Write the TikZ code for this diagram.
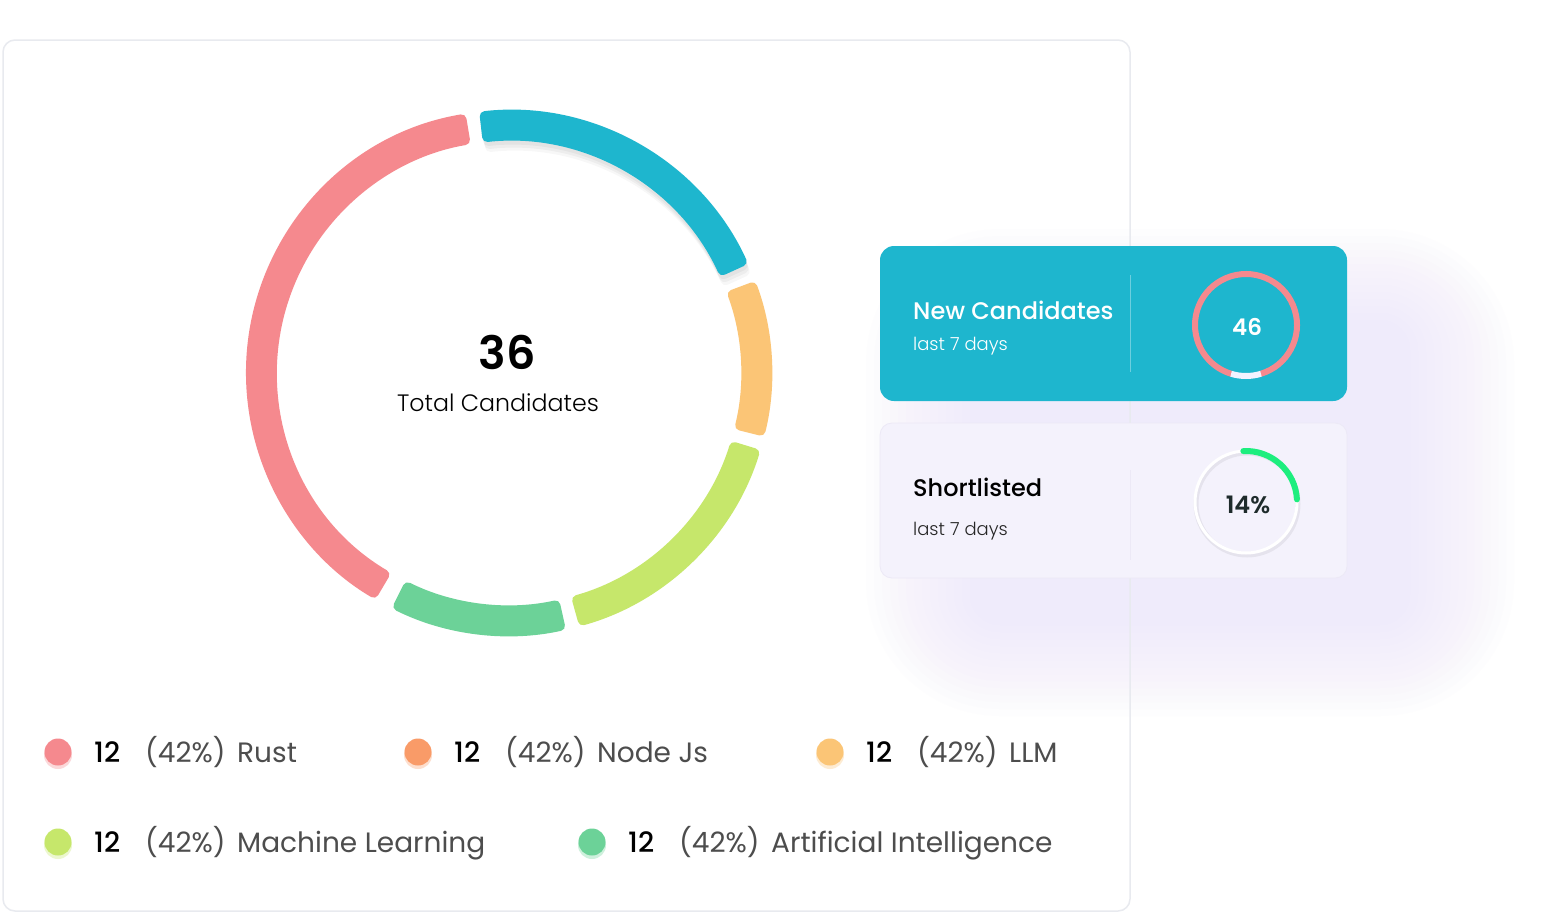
\documentclass[tikz,border=0pt]{standalone}
\usepackage{fontspec}
\setmainfont{Poppins}
\newfontfamily\pmed{Poppins Medium}
\newfontfamily\plight{Poppins Light}
\newfontfamily\psemi{Poppins SemiBold}
\definecolor{pinkc}{HTML}{F5898E}
\definecolor{tealc}{HTML}{1EB6CE}
\definecolor{orangec}{HTML}{FBC576}
\definecolor{limec}{HTML}{C6E76B}
\definecolor{greenc}{HTML}{6CD298}
\definecolor{nodec}{HTML}{F99B68}
\definecolor{bordc}{HTML}{E8EAEF}
\definecolor{glowc}{HTML}{DCD4FB}
\definecolor{shortc}{HTML}{F4F2FC}
\definecolor{shortb}{HTML}{ECE9F6}
\definecolor{greyt}{HTML}{4D4D4D}
\definecolor{brightg}{HTML}{1DEE7E}
\definecolor{darkt}{HTML}{1E2B2B}
\newcommand\donutseg[3]{\fill[#1, rounded corners=5] ({-(#2)}:263) arc[start angle={-(#2)}, end angle={-(#3)}, radius=263] -- ({-(#3)}:232) arc[start angle={-(#3)}, end angle={-(#2)}, radius=232] -- cycle;}
\newcommand\legitem[5]{%
  \fill[#2!55!white, opacity=0.6] (#3,#4+3) circle (14);
  \fill[#2] (#3,#4) circle (13.5);
  \node[txt] (#1n) at (#3+36,#4+10) {\fontsize{28}{31}\pmed 12};
  \node[txt, text=greyt] (#1p) at (#3+87,#4+10) {\fontsize{28}{31}\selectfont (42\%)};
  \node[txt, text=greyt] (#1l) at (#3+179,#4+10) {\fontsize{28}{31}\selectfont #5};
}
\begin{document}
\begin{tikzpicture}[x=1pt,y=-1pt, txt/.style={inner sep=0pt, anchor=base west}]
\useasboundingbox (0,0) rectangle (1549,913);
\fill[white] (0,0) rectangle (1549,913);
% main card
\fill[white, rounded corners=12] (3,40) rectangle (1130,911);
% glow behind cards
\foreach \i in {0,...,13}
  \fill[glowc, opacity=0.032, rounded corners={30+8*\i}] ({970-8*\i},{320-7*\i}) rectangle ({1410+8*\i},{625+7*\i});
\draw[bordc, line width=1.5, rounded corners=12] (3,40) rectangle (1130,911);

% donut
\begin{scope}[shift={(509,373)}]
  \begin{scope}[shift={(1,4)}]\donutseg{black, opacity=0.04}{24.5}{96.5}\end{scope}
  \begin{scope}[shift={(2,7)}]\donutseg{black, opacity=0.04}{24.5}{96.5}\end{scope}
  \begin{scope}[shift={(3,10)}]\donutseg{black, opacity=0.03}{24.5}{96.5}\end{scope}
  \donutseg{pinkc}{99.5}{239.5}
  \donutseg{greenc}{243.5}{282.5}
  \donutseg{limec}{285.5}{343}
  \donutseg{orangec}{346}{380.5}
  \donutseg{tealc}{24.5}{96.5}
\end{scope}
\node[inner sep=0] (total) at (507,352) {\fontsize{46}{50}\psemi 36};
\node[inner sep=0] (totlbl) at (498,403) {\fontsize{23.7}{27}\plight Total Candidates};

% legend
\legitem{rust}{pinkc}{58}{752}{Rust}
\legitem{node}{nodec}{418}{752}{Node Js}
\legitem{llm}{orangec}{830}{752}{LLM}
\legitem{ml}{limec}{58}{842}{Machine Learning}
\legitem{ai}{greenc}{592}{842}{Artificial Intelligence}

% new candidates card
\fill[tealc, rounded corners=14] (880,246) rectangle (1347,401);
\draw[white, opacity=0.35, line width=1] (1130,275) -- (1130,372);
\node[txt, text=white] (newt) at (913,319) {\fontsize{24}{27}\pmed New Candidates};
\node[txt, text=white] (newd) at (913,350) {\fontsize{18}{21}\plight last 7 days};
\draw[pinkc, line width=6, line cap=round] (1246,325) ++(73:51) arc[start angle=73, end angle=-253, radius=51];
\draw[white!95!blue, line width=6] (1246,325) ++(107:51) arc[start angle=107, end angle=73, radius=51];
\node[inner sep=0, text=white] (newv) at (1247,327) {\fontsize{23}{26}\psemi 46};

% shortlisted card
\fill[shortc, draw=shortb, line width=0.8, rounded corners=12] (880,423) rectangle (1347,578);
\draw[shortb, line width=1] (1130,470) -- (1130,560);
\node[txt, text=black] (shortt) at (913,496) {\fontsize{24}{27}\pmed Shortlisted};
\node[txt, text=black!85] (shortd) at (913,535) {\fontsize{18}{21}\plight last 7 days};
\draw[black, opacity=0.06, line width=5] (1247,504) circle (51);
\draw[white, line width=3] (1246,502) circle (51);
\draw[brightg, line width=6, line cap=round] (1246,502) ++(-93:51) arc[start angle=-93, end angle=-3, radius=51];
\node[inner sep=0, text=darkt] (shortv) at (1248,505) {\fontsize{24}{27}\psemi 14\%};
\end{tikzpicture}
\end{document}
